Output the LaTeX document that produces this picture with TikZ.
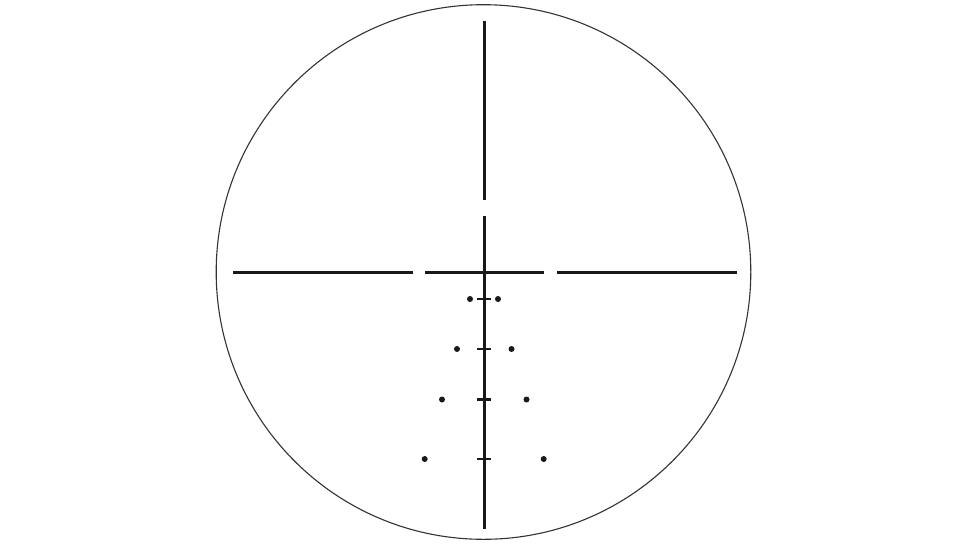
\documentclass[tikz,border=0pt]{standalone}
\begin{document}
\begin{tikzpicture}[x=1pt,y=-1pt,
  ring/.style={draw=black!80,line width=1.1pt},
  hair/.style={draw=black!90,line width=3pt},
  tick/.style={draw=black!90,line width=2.6pt},
  dot/.style={fill=black!90}]
\useasboundingbox (0,0) rectangle (978,550);
\draw[ring] (483.5,272) circle[radius=267.3];
% vertical hair
\draw[hair] (484,21) -- (484,200);
\draw[hair] (484,216) -- (484,529);
% horizontal hair
\draw[hair] (233,272.5) -- (413,272.5);
\draw[hair] (425,272.5) -- (544,272.5);
\draw[hair] (557,272.5) -- (737,272.5);
% ticks
\foreach \y in {299,349,399.5,459}{
  \draw[tick] (477,\y) -- (491,\y);
}
% dots
\foreach \xl/\xr/\y in {470/498/299, 457/511.5/349, 442/526.5/399.5, 424.7/543.7/459}{
  \fill[dot] (\xl,\y) circle[radius=3];
  \fill[dot] (\xr,\y) circle[radius=3];
}
\end{tikzpicture}
\end{document}
